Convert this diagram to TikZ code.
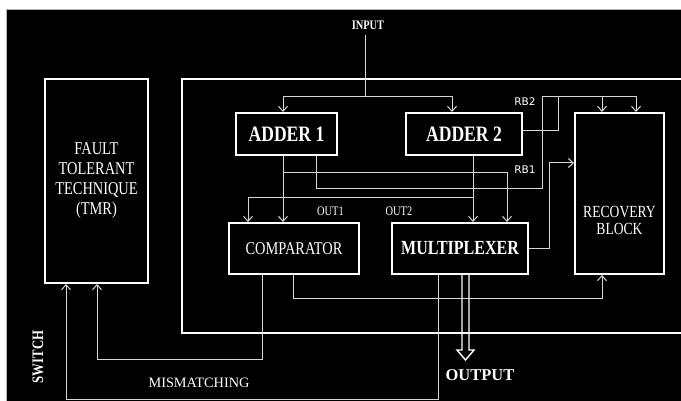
\documentclass[tikz,border=0pt]{standalone}
\usepackage{fontspec}
\usepackage{graphicx}
\usetikzlibrary{arrows.meta}
\setmainfont{Liberation Serif}
\newfontfamily\rbfont{DejaVu Sans}
\definecolor{wire}{HTML}{D6D6D6}
% narrow lettering used in the blocks
\newcommand{\narrow}[1]{\scalebox{0.8}[1]{#1}}
\newcommand{\narrowlines}[1]{\scalebox{0.8}[1]{\begin{tabular}{@{}c@{}}#1\end{tabular}}}
\begin{document}
\begin{tikzpicture}[x=1pt,y=-1pt,
  box/.style={draw=white, line width=2pt, inner sep=0pt, text=white},
  conn/.style={draw=wire, line width=1pt},
  arr/.style={conn, -{Straight Barb[length=5pt,width=9pt]}},
  txt/.style={text=white, inner sep=1pt},
  hollow/.style={draw=white, line width=1.4pt, line join=miter}
]
% page, dark canvas and clipping
\useasboundingbox (0,0) rectangle (681,401);
\clip (0,0) rectangle (681,401);
\fill[white] (0,0) rectangle (681,401);
\fill[black] (6,9) rectangle (681,401);
\draw[gray!60, line width=0.8pt] (6,401) -- (6,9) -- (681,9);

% outer frame of the protected unit
\draw[box] (182,79) rectangle (700,333);

% blocks
\node[box, minimum width=101pt, minimum height=42pt,
      font=\bfseries\fontsize{22}{26}\selectfont] (adder1) at (286.5,134) {\narrow{ADDER 1}};
\node[box, minimum width=116pt, minimum height=42pt,
      font=\bfseries\fontsize{22}{26}\selectfont] (adder2) at (464,134) {\narrow{ADDER 2}};
\node[box, minimum width=130pt, minimum height=51pt,
      font=\fontsize{18}{20}\selectfont] (comp) at (294,248.5) {\narrow{COMPARATOR}};
\node[box, minimum width=136pt, minimum height=51pt,
      font=\bfseries\fontsize{20}{24}\selectfont] (mux) at (460,248.5) {\narrow{MULTIPLEXER}};
\node[box, minimum width=89pt, minimum height=161pt] (rec) at (619.5,193.5) {};
\node[txt, font=\fontsize{17}{17}\selectfont] (rectext) at (619.5,223) {\narrowlines{RECOVERY\\BLOCK}};
\node[box, minimum width=103pt, minimum height=204pt,
      font=\fontsize{18}{20}\selectfont] (ftt) at (96.5,181)
      {\raisebox{-3pt}{\narrowlines{FAULT\\TOLERANT\\TECHNIQUE\\(TMR)}}};

% labels
\node[txt, font=\bfseries\fontsize{13}{15}\selectfont] (input) at (368,25) {\narrow{INPUT}};
\node[txt, font=\rbfont\fontsize{10.5}{12}\selectfont] (rb2) at (525,102) {RB2};
\node[txt, font=\rbfont\fontsize{10.5}{12}\selectfont] (rb1) at (525,169.5) {RB1};
\node[txt, font=\fontsize{13}{15}\selectfont] (out1) at (330.5,211) {\narrow{OUT1}};
\node[txt, font=\fontsize{13}{15}\selectfont] (out2) at (399,211) {\narrow{OUT2}};
\node[txt, font=\bfseries\fontsize{16.5}{18}\selectfont] (output) at (480,375) {OUTPUT};
\node[txt, font=\fontsize{14.3}{16}\selectfont] (mism) at (199,383) {MISMATCHING};
\node[txt, rotate=90, font=\bfseries\fontsize{16}{18}\selectfont] (switch) at (38,357) {\narrow{SWITCH}};

% junction points
\coordinate (injn) at (365,97);
\coordinate (rbj) at (558,97);
\coordinate (rbw) at (542,97);
\coordinate (rbs) at (542,189);
\coordinate (j1) at (284,173);
\coordinate (j2) at (474,198);

% input distribution
\draw[conn] (injn |- input.south) ++(0,4) -- (injn);
\draw[arr] (injn) -| ([xshift=48pt]adder1.north west);
\draw[arr] (injn) -| ([xshift=47pt]adder2.north west);

% recovery bus RB2
\draw[conn] ([yshift=3pt]adder2.east) -| (rbj);
\draw[conn] (rbw) -- (rbj);
\draw[arr] (rbj) -| ([xshift=28pt]rec.north west);
\draw[arr] (rbj) -| ([xshift=62pt]rec.north west);
\draw[conn] ([xshift=81pt]adder1.south west) |- (rbs) -- (rbw);

% adder outputs to comparator and multiplexer
\draw[arr] ([xshift=48pt]adder1.south west) -- ([xshift=55pt]comp.north west);
\draw[arr] (j1) -| ([xshift=116pt]mux.north west);
\draw[arr] ([xshift=68pt]adder2.south west) -- ([xshift=82pt]mux.north west);
\draw[arr] (j2) -| ([xshift=20pt]comp.north west);

% recovery bus RB1
\draw[arr] (mux.east) -- ++(20,0) |- ([yshift=-51pt]rec.north west);

% comparator outputs
\draw[arr] ([xshift=65pt]comp.south west) -- ++(0,24) -| ([xshift=28pt]rec.south west);
\draw[arr] ([xshift=34pt]comp.south west) -- ++(0,84) -| ([xshift=53pt]ftt.south west);

% switch line back to the TMR block
\draw[arr] ([xshift=47pt]mux.south west) -- ++(0,124) -| ([xshift=22pt]ftt.south west);

% hollow output arrow
\draw[hollow] ([xshift=71pt]mux.south west) -- ++(0,75) -- ++(-5,0) -- ++(8.5,10)
  -- ++(8.5,-10) -- ++(-5,0) -- ++(0,-75);
\end{tikzpicture}
\end{document}
